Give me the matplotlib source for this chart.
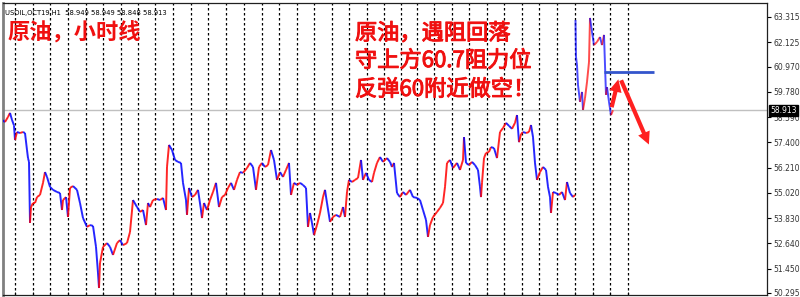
import matplotlib
matplotlib.use("Agg")
import matplotlib.pyplot as plt
import matplotlib.patheffects as pe
from matplotlib.collections import LineCollection
import numpy as np

# hourly bars (bar position, price) before the gap
bars_x = [2, 5, 8, 10, 12, 14, 15, 17, 20, 23, 25, 27, 28, 29, 30, 31, 33, 35, 37, 40,
          43, 45, 47, 50, 53, 57, 60, 62, 63, 66, 68, 70, 73, 77, 80, 83, 87, 90, 93, 96,
          98, 99, 100, 103, 107, 110, 113, 117, 120, 123, 127, 130, 133, 137, 140, 143, 146, 148, 150, 153,
          157, 160, 163, 166, 167, 169, 172, 175, 178, 181, 183, 186, 187, 189, 192, 195, 198, 201, 202, 204,
          207, 210, 213, 216, 219, 222, 225, 228, 231, 234, 237, 240, 243, 247, 250, 253, 256, 259, 262, 265,
          268, 271, 274, 277, 280, 283, 286, 289, 291, 294, 297, 300, 303, 306, 308, 310, 312, 314, 317, 320,
          323, 325, 327, 330, 333, 336, 340, 343, 345, 347, 349, 352, 355, 358, 361, 363, 366, 369, 372, 374,
          377, 380, 383, 387, 390, 392, 394, 397, 400, 403, 406, 410, 413, 417, 420, 423, 426, 428, 430, 433,
          437, 440, 443, 445, 447, 450, 453, 457, 460, 463, 464, 466, 469, 472, 475, 478, 480, 481, 482, 484,
          486, 489, 491, 494, 497, 500, 503, 506, 509, 512, 515, 517, 519, 521, 523, 526, 529, 531, 533, 535,
          537, 540, 543, 546, 548, 550, 551, 553, 556, 559, 562, 565, 567, 570, 573, 575]
prices = [58.46, 58.36, 58.60, 58.79, 58.46, 58.20, 57.51, 57.89, 57.84, 57.89, 57.84, 57.04, 56.66, 56.48, 53.60, 54.35, 54.54, 54.54, 54.82, 54.92,
          55.49, 56.00, 55.77, 55.30, 55.16, 55.06, 55.01, 54.21, 54.68, 54.82, 53.88, 55.25, 55.34, 55.16, 54.54, 53.83, 53.41, 53.50, 53.46, 52.47,
          51.24, 50.53, 51.71, 52.47, 52.65, 52.47, 52.09, 52.65, 52.79, 52.55, 52.65, 53.17, 54.68, 54.35, 54.12, 54.21, 53.50, 54.54, 54.35, 54.68,
          54.73, 54.68, 54.78, 54.21, 56.24, 57.28, 57.04, 56.57, 56.48, 56.43, 55.49, 54.68, 53.98, 55.25, 54.82, 54.92, 55.16, 54.21, 53.83, 54.54,
          54.21, 54.68, 55.06, 55.49, 54.35, 54.82, 54.92, 55.25, 55.49, 55.16, 55.63, 56.00, 55.96, 56.19, 56.43, 56.24, 55.16, 56.24, 56.43, 56.24,
          56.33, 57.04, 56.57, 55.63, 56.00, 55.77, 56.10, 56.43, 54.92, 55.49, 55.39, 55.49, 55.39, 55.25, 53.41, 54.07, 53.60, 53.03, 53.50, 54.07,
          54.82, 55.16, 54.54, 53.65, 53.88, 53.98, 53.88, 54.35, 53.88, 55.06, 55.63, 55.53, 55.63, 55.72, 56.57, 55.63, 55.96, 55.63, 55.53, 55.96,
          56.43, 56.71, 56.48, 56.66, 56.48, 56.24, 56.43, 55.01, 54.82, 55.06, 54.92, 55.16, 54.82, 54.78, 54.68, 54.21, 53.74, 52.94, 53.50, 53.88,
          54.12, 54.31, 54.54, 55.30, 56.43, 56.57, 56.19, 56.43, 56.10, 56.57, 57.65, 56.43, 56.33, 56.48, 56.33, 56.10, 55.30, 54.82, 55.49, 56.66,
          56.90, 56.95, 57.18, 57.13, 56.66, 57.89, 58.08, 58.32, 58.18, 58.04, 58.32, 58.69, 57.41, 57.79, 57.89, 57.84, 57.89, 58.22, 57.65, 56.43,
          55.63, 56.00, 56.24, 56.10, 55.30, 54.82, 54.07, 55.06, 55.01, 54.92, 55.06, 54.68, 55.53, 55.01, 54.82, 54.92]

# bars after the gap up
gap_x = [575.5, 576, 577, 578, 580, 582, 583, 585, 587, 589, 590, 592, 594, 597, 600, 602, 604, 605, 606, 607, 609, 611, 613]
gap_prices = [63.17, 61.43, 61.05, 60.11, 59.31, 59.78, 58.93, 59.49, 60.25, 61.19, 63.27, 62.61, 61.99, 62.14, 62.37, 61.99, 62.47, 61.05, 59.64, 60.01, 59.31, 58.69, 58.913]

price_ticks = [63.315, 62.125, 60.970, 59.780, 58.590, 57.400, 56.210, 55.020, 53.830, 52.640, 51.450, 50.295]
day_marks = [15, 33, 50, 68, 86, 103, 121, 138, 155, 173, 191, 208, 226, 244, 262, 279, 297, 314,
             332, 349, 367, 384, 401, 417, 434, 452, 469, 487, 504, 522, 539, 557, 575, 593, 610, 628]
last_price = 58.913
resistance = 60.70
arrow_up = [(611, 58.93), (619, 60.50)]
arrow_down = [(620, 60.45), (650, 57.18)]

cjk = ['Noto Sans CJK SC', 'DejaVu Sans']
red_txt = '#f01010'

fig = plt.figure(figsize=(8, 2.97), dpi=100)
ax = fig.add_axes([3 / 800, 2 / 297, 764 / 800, 292 / 297])
ax.set_xlim(3, 767)
ax.set_ylim(50.20, 63.975)

ax.vlines(day_marks, 50.20, 63.975, colors='black', linestyles=(0, (2, 2)), linewidth=0.9, zorder=1)
ax.axhline(last_price, color='#c0c0c0', lw=1, zorder=1)


def draw_series(xs, ys, alpha):
    pts = np.column_stack([xs, ys])
    segs = np.stack([pts[:-1], pts[1:]], axis=1)
    cols = ['#ff0000' if b >= a else '#0000ff' for a, b in zip(ys[:-1], ys[1:])]
    lc = LineCollection(segs, colors=cols, linewidths=1.4, alpha=alpha, zorder=3,
                        joinstyle='miter', capstyle='butt')
    ax.add_collection(lc)


draw_series(bars_x, prices, 0.85)
draw_series(gap_x, gap_prices, 0.7)

ax.hlines(resistance, 604, 654, colors='#3355cc', linewidth=2, zorder=4)
for (x0, y0), (x1, y1) in [arrow_up, arrow_down]:
    ax.annotate('', xy=(x1, y1), xytext=(x0, y0),
                arrowprops=dict(arrowstyle='simple,head_width=0.9,head_length=0.9,tail_width=0.3',
                                color='#ff2020', lw=0), zorder=5)

ax.yaxis.tick_right()
ax.set_yticks(price_ticks)
ax.set_yticklabels([f'{v:.3f}' for v in price_ticks], fontsize=5.5, color='#333333')
ax.tick_params(axis='y', length=3, width=0.8, pad=1.5)
ax.set_xticks(day_marks)
ax.set_xticklabels([])
ax.tick_params(axis='x', direction='in', length=2)
for s in ['top', 'right', 'bottom']:
    ax.spines[s].set_color('#202020')
    ax.spines[s].set_linewidth(0.9)
ax.spines['left'].set_color('#808080')
ax.spines['left'].set_linewidth(2)

ax.annotate(f'{last_price:.3f}', xy=(1, last_price), xycoords=('axes fraction', 'data'),
            xytext=(2.5, 0), textcoords='offset points', fontsize=5.5, color='white',
            va='center', ha='left',
            bbox=dict(boxstyle='square,pad=0.15', fc='black', ec='black'))

ax.text(0.003, 0.965, 'USOIL,OCT19,H1  58.949 58.949 58.848 58.913', transform=ax.transAxes,
        fontsize=4.9, color='black', va='center', ha='left')
ax.text(8, 62.55, '原油，小时线', fontsize=16, color=red_txt, family=cjk,
        fontweight='bold', va='center', ha='left')

thicker = [pe.withStroke(linewidth=0.7, foreground=red_txt)]
note_lines = ['原油，遇阻回落', '守上方60.7阻力位', '反弹60附近做空！']
for line, yv in zip(note_lines, [62.55, 61.26, 59.90]):
    ax.text(355, yv, line, fontsize=16, color=red_txt, family=cjk,
            va='center', ha='left', path_effects=thicker)

fig.savefig('out.png', dpi=100)
